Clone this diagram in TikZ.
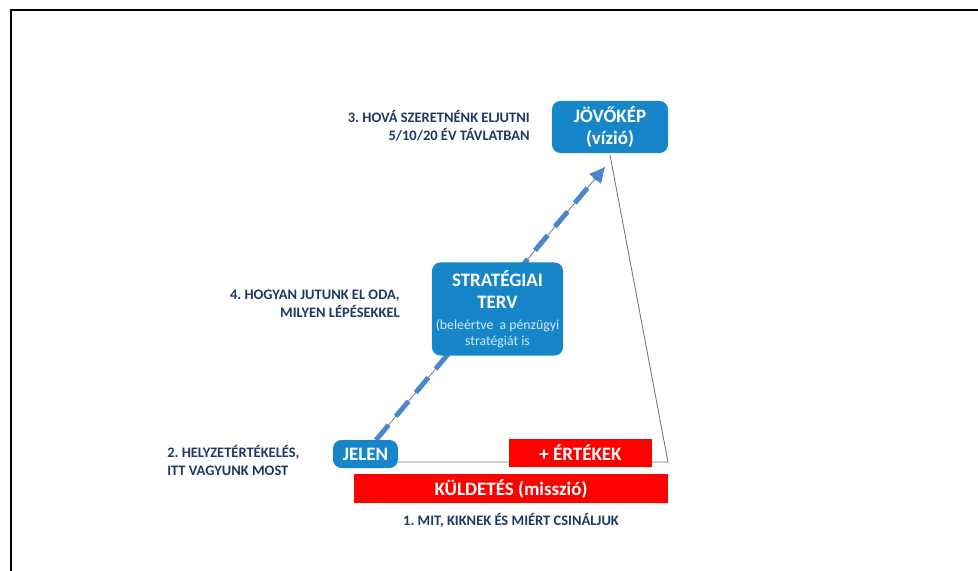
\documentclass[tikz,border=0pt]{standalone}
\usepackage{fontspec}
\setmainfont{Carlito}
\usepackage{tikz}
\usetikzlibrary{arrows.meta}
\definecolor{navy}{RGB}{31, 56, 100}
\definecolor{boxblue}{RGB}{22, 134, 200}
\definecolor{dashblue}{RGB}{74, 134, 204}
\definecolor{paleblue}{RGB}{214, 234, 248}
\frenchspacing

\begin{document}
\begin{tikzpicture}[x=0.025cm, y=-0.025cm,
    bluebox/.style={fill=boxblue, rounded corners=6, text=white, align=center,
      inner sep=0pt, font=\fontsize{13.5}{16}\selectfont\bfseries},
    redbox/.style={fill=red, text=white, inner sep=0pt,
      font=\fontsize{13.5}{16}\selectfont\bfseries},
    question/.style={text=navy, inner sep=0pt, font=\fontsize{10.3}{12.8}\selectfont\bfseries}]

  \useasboundingbox (0,0) rectangle (978,571);
  \draw[line width=1.5pt] (11,571) -- (11,10) -- (978,10);

  \coordinate (apex) at (610,155);
  \coordinate (corner) at (668,462);
  \coordinate (start) at (376,440);
  \coordinate (tip) at (605,167);

  % path from today to the vision
  \draw[gray, line width=0.6pt] (start) -- (tip);
  \draw[dashblue, line width=3.5pt, dash pattern=on 14pt off 8pt,
    -{Triangle[length=11pt, width=10pt]}] (start) -- (tip);

  \node[bluebox, minimum width=2.9cm, minimum height=1.3cm] (vision) at (610,127)
    {JÖVŐKÉP\\(vízió)};
  \node[bluebox, minimum width=3.275cm, minimum height=2.325cm] (plan) at (497.5,309)
    {STRATÉGIAI\\TERV\\[-1pt]
     {\color{paleblue}\fontsize{9.8}{11}\selectfont\mdseries (beleértve\ \ a pénzügyi}\\[-5pt]
     {\color{paleblue}\fontsize{9.8}{11}\selectfont\mdseries stratégiát is}};

  \draw[gray!90!black, line width=0.6pt] (398,462) -- (corner) -- (apex);

  \node[bluebox, minimum width=1.625cm, minimum height=0.7cm] (now) at (365.5,454) {JELEN};
  \node[redbox, minimum width=3.575cm, minimum height=0.7cm] (values) at (580.5,453) {+ ÉRTÉKEK};
  \node[redbox, minimum width=7.85cm, minimum height=0.725cm] (mission) at (511,488.5)
    {KÜLDETÉS (misszió)};

  \node[question, anchor=east, align=right] (q3) at (530,126)
    {3. HOVÁ SZERETNÉNK ELJUTNI\\5/10/20 ÉV TÁVLATBAN};
  \node[question, anchor=east, align=right] (q4) at (400,304)
    {4. HOGYAN JUTUNK EL ODA,\\MILYEN LÉPÉSEKKEL};
  \node[question, anchor=west, align=left] (q2) at (167,460)
    {2. HELYZETÉRTÉKELÉS,\\ITT VAGYUNK MOST};
  \node[question] (q1) at (511,520) {1. MIT, KIKNEK ÉS MIÉRT CSINÁLJUK};

\end{tikzpicture}
\end{document}
